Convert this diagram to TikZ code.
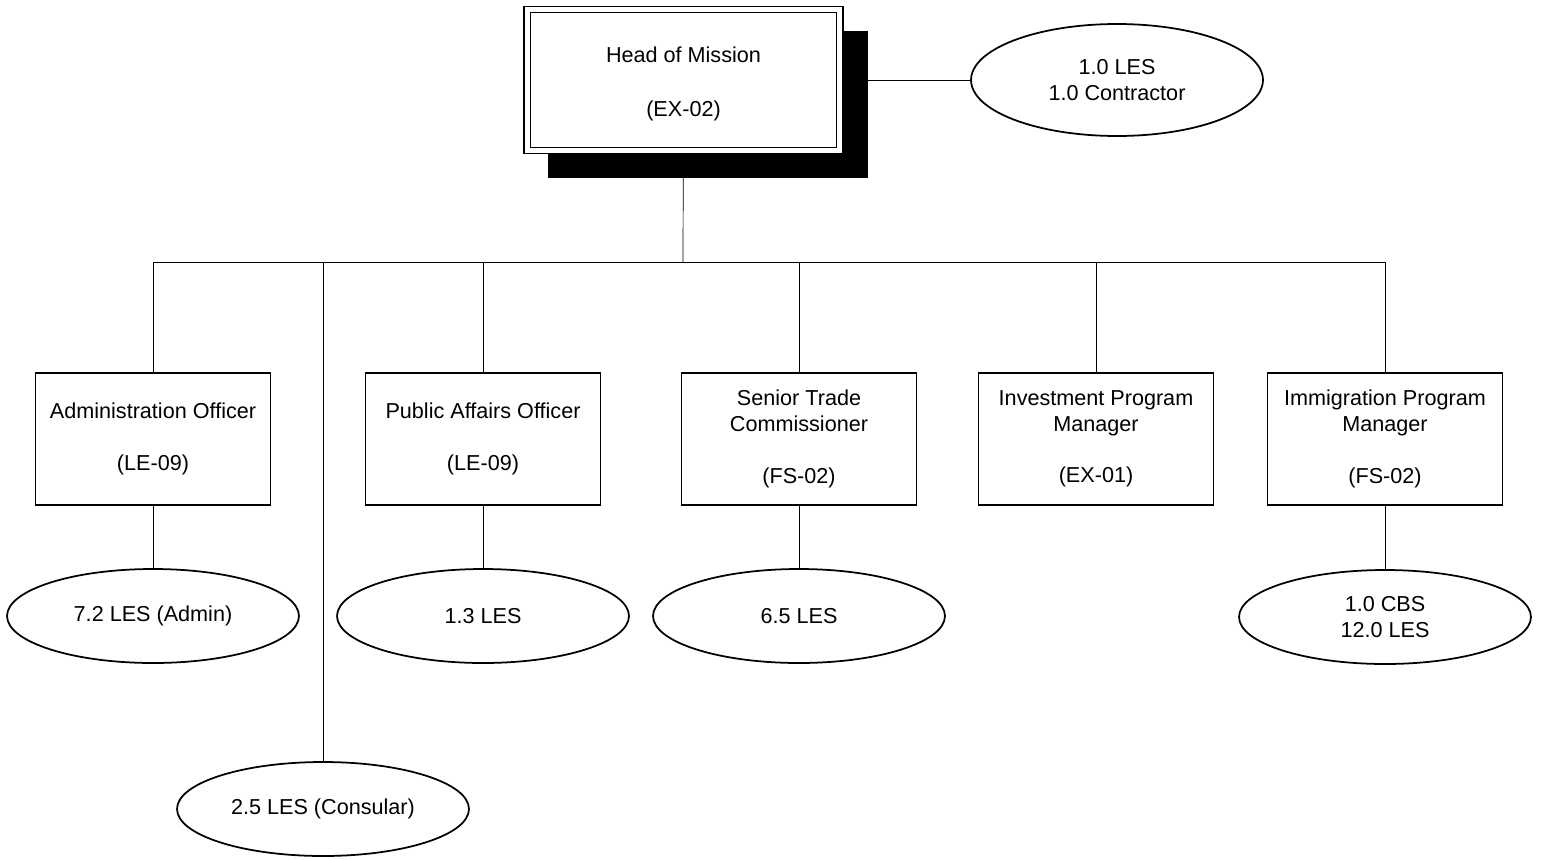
\documentclass[tikz,border=0pt]{standalone}
\usepackage{fontspec}
\setmainfont{Liberation Sans}
\usetikzlibrary{shapes.geometric,backgrounds}

\tikzset{
  post/.style={draw, line width=0.6pt, fill=white, minimum width=4.7cm, minimum height=2.64cm,
    align=center, inner sep=0pt, font=\fontsize{12.3}{14.7}\selectfont},
  staff/.style={draw, ellipse, line width=1pt, fill=white, minimum width=5.84cm, minimum height=1.88cm,
    align=center, inner sep=0pt, font=\fontsize{12.3}{14.7}\selectfont},
  link/.style={line width=0.5pt}
}

\begin{document}
\begin{tikzpicture}[x=0.02cm, y=-0.02cm]
            \useasboundingbox (0,0) rectangle (1542,859);

            % Head of mission with its shadow
            \node[fill=black, minimum width=6.4cm, minimum height=2.94cm, inner sep=0pt] (homshadow) at (708,104.5) {};
            \node[draw, double, double distance=0.1cm, line width=0.7pt, fill=white, minimum width=6.26cm,
              minimum height=2.82cm, align=center, inner sep=0pt, font=\fontsize{12.3}{14.7}\selectfont]
              (hom) at (683.5,80) {\rule{0pt}{13.5pt}Head of Mission\\[16pt](EX-02)};
            \node[staff, minimum height=2.24cm] (homstaff) at (1117,80) {1.0 LES\\1.0 Contractor};

            % Posts
            \node[post] (admin) at (153,439) {Administration Officer\\[14.7pt](LE-09)};
            \node[post] (pao) at (483,439) {Public Affairs Officer\\[14.7pt](LE-09)};
            \node[post] (stc) at (799,439) {Senior Trade\\Commissioner\\[14.7pt](FS-02)};
            \node[post] (ipm) at (1096,439) {Investment Program\\Manager\\[14.7pt](EX-01)};
            \node[post] (imm) at (1385,439) {Immigration Program\\Manager\\[14.7pt](FS-02)};

            % Staff
            \node[staff] (adminstaff) at (153,616) {7.2 LES (Admin)};
            \node[staff] (consstaff) at (323,809) {2.5 LES (Consular)};
            \node[staff] (paostaff) at (483,616) {1.3 LES};
            \node[staff] (stcstaff) at (799,616) {6.5 LES};
            \node[staff] (immstaff) at (1385,617) {1.0 CBS\\12.0 LES};

            \coordinate (bus) at (683,262);

            % Edges
            \begin{scope}[on background layer, link]
            \draw (hom) -- (homstaff);
            \draw (hom) -- (bus);
            \draw (bus) -| (admin);
            \draw (bus) -| (consstaff);
            \draw (bus) -| (pao);
            \draw (bus) -| (stc);
            \draw (bus) -| (ipm);
            \draw (bus) -| (imm);
            \draw (admin) -- (adminstaff);
            \draw (pao) -- (paostaff);
            \draw (stc) -- (stcstaff);
            \draw (imm) -- (immstaff);
            \end{scope}
        \end{tikzpicture}
\end{document}
